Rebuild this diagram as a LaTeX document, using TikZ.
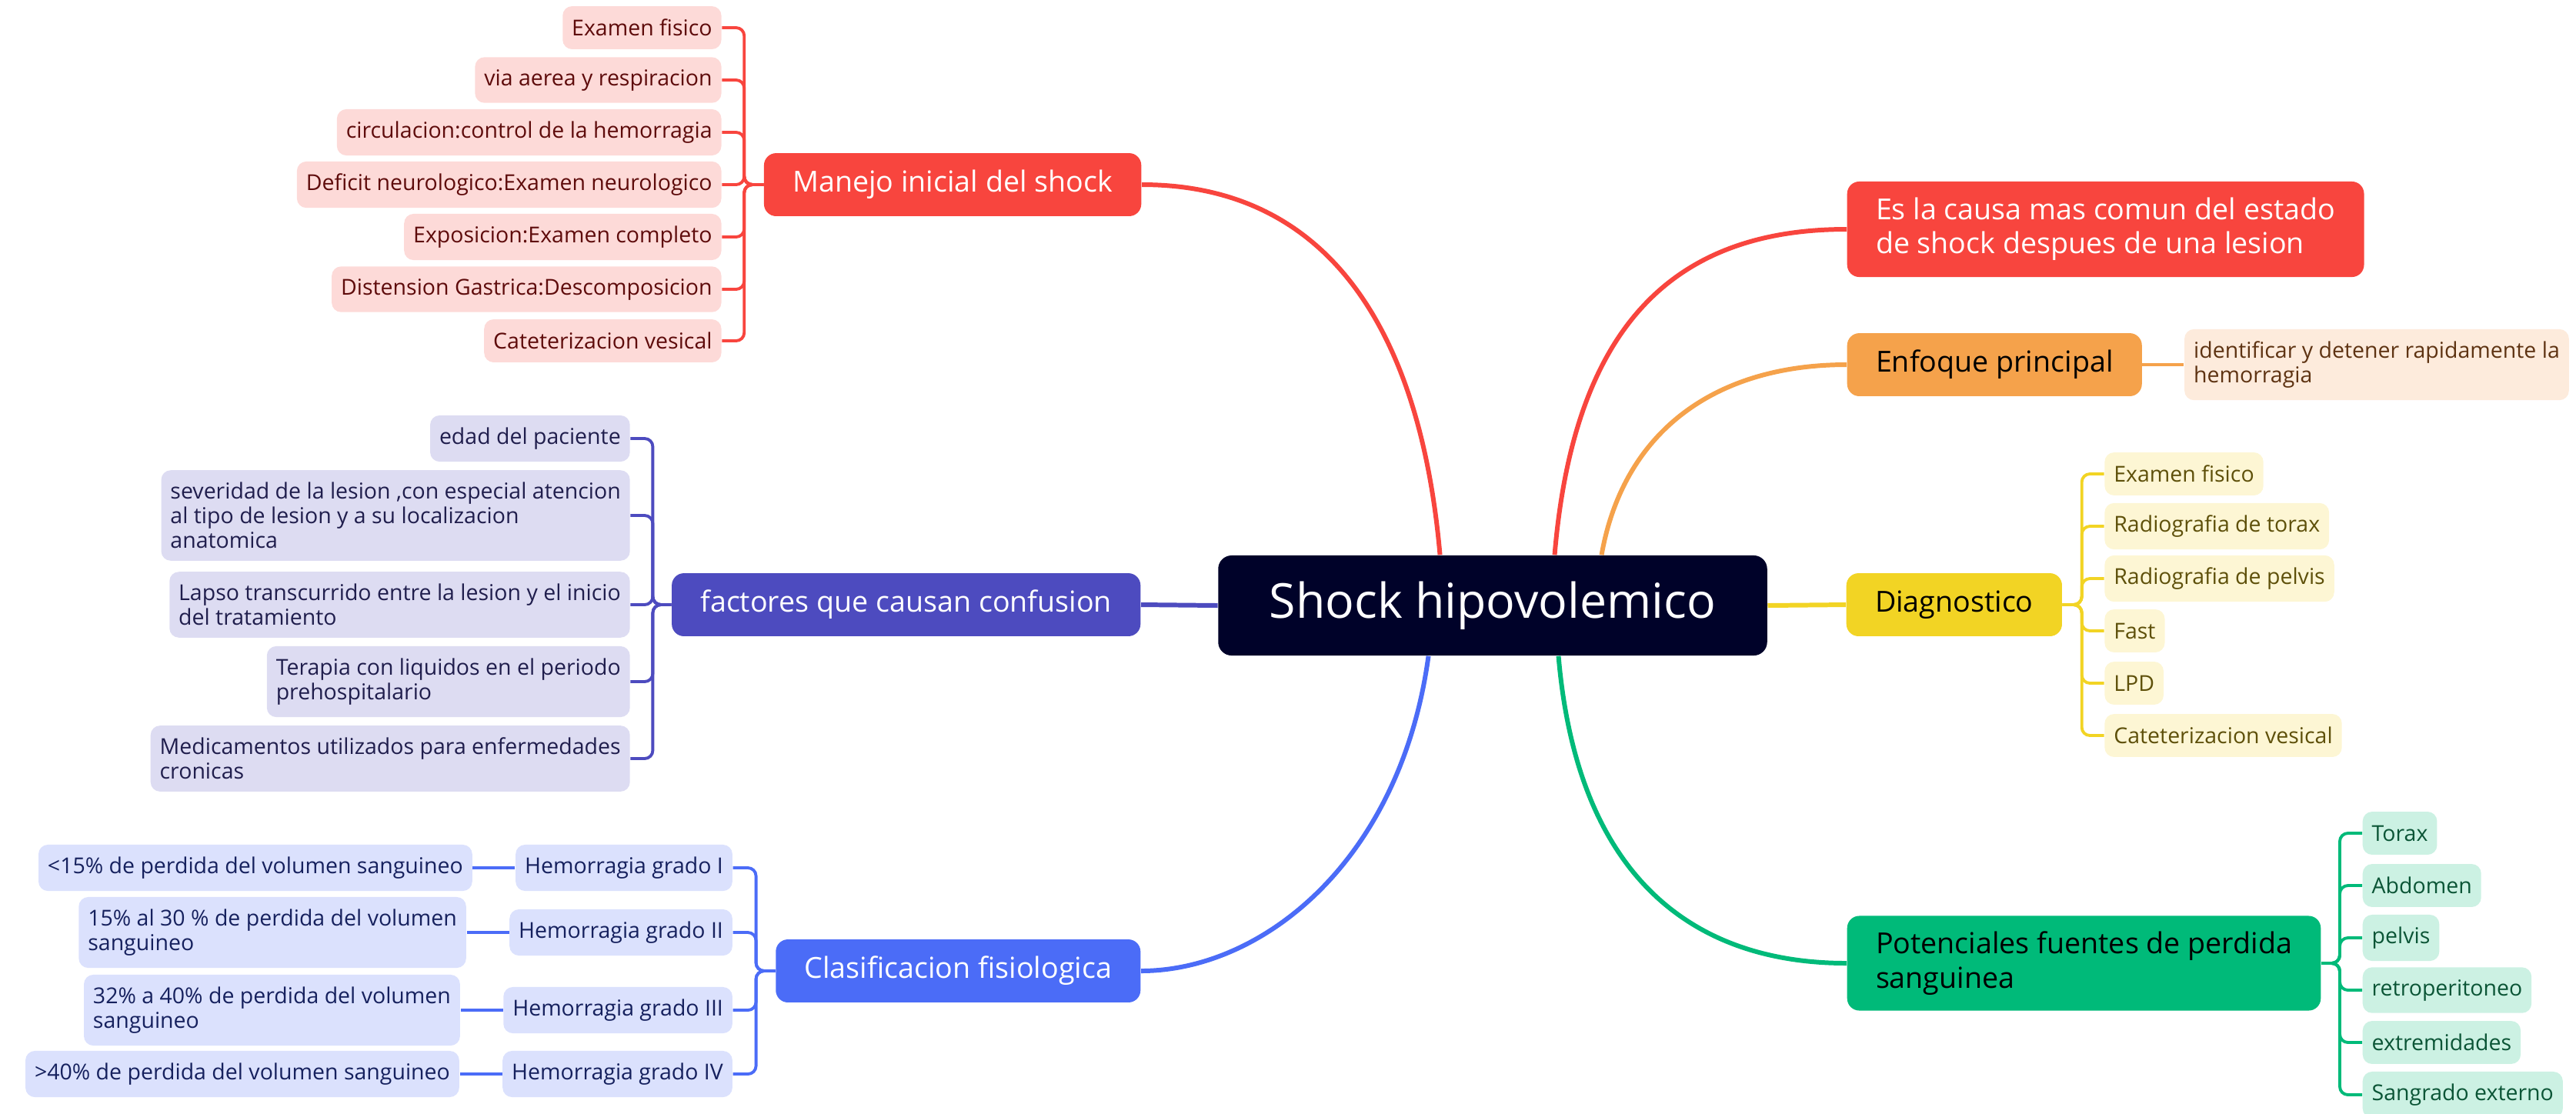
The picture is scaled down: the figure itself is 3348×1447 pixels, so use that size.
\documentclass[tikz,border=0pt]{standalone}
\usepackage{fontspec}
\setmainfont{Open Sans}
\usetikzlibrary{calc}
\definecolor{hubc}{HTML}{000229}
\definecolor{redc}{HTML}{F8453E}
\definecolor{redl}{HTML}{FDDAD8}
\definecolor{redt}{HTML}{5E0B0B}
\definecolor{purc}{HTML}{4D4BBF}
\definecolor{purl}{HTML}{DDDCF2}
\definecolor{purt}{HTML}{201E4D}
\definecolor{bluc}{HTML}{4B6CF7}
\definecolor{blul}{HTML}{DBE1FD}
\definecolor{blut}{HTML}{16215E}
\definecolor{orac}{HTML}{F5A24B}
\definecolor{oral}{HTML}{FDEBDC}
\definecolor{orat}{HTML}{5E3312}
\definecolor{yelc}{HTML}{F2D424}
\definecolor{yell}{HTML}{FDF6D4}
\definecolor{yelt}{HTML}{5E500A}
\definecolor{grec}{HTML}{00BA79}
\definecolor{grel}{HTML}{CCF1E3}
\definecolor{gret}{HTML}{0B5536}

\begin{document}
\begin{tikzpicture}[x=0.01cm,y=-0.01cm,
  hub/.style={fill=hubc,text=white,rounded corners=5pt,minimum width=202.9pt,minimum height=37pt,font=\fontsize{17.8}{20}\selectfont},
  topic/.style={rounded corners=4.5pt,minimum height=23.3pt,inner xsep=10.6pt,font=\fontsize{10.7}{12.6}\selectfont,align=left},
  leaf/.style={rounded corners=3.5pt,minimum height=15.9pt,inner xsep=3.4pt,inner ysep=4.5pt,font=\fontsize{8.1}{9.1}\selectfont,align=left},
  link/.style={line width=1.7pt},
  brk/.style={line width=1.1pt,rounded corners=3pt}]
\useasboundingbox (0,0) rectangle (3348,1447);

\node[hub] (hub) at (1940,787) {Shock hipovolemico};

\node[topic,fill=redc,text=white,anchor=east] (manejo) at (1484,240) {Manejo inicial del shock};
\node[topic,fill=purc,text=white,anchor=east] (factores) at (1483,786) {factores que causan confusion};
\node[topic,fill=bluc,text=white,anchor=east] (clasif) at (1483,1262) {Clasificacion fisiologica};
\node[topic,fill=redc,text=white,anchor=west,minimum height=35.3pt] (causa) at (2400,298) {Es la causa mas comun del estado\\de shock despues de una lesion};
\node[topic,fill=orac,anchor=west] (enfoque) at (2400,474) {Enfoque principal};
\node[topic,fill=yelc,anchor=west] (diag) at (2399,786) {Diagnostico};
\node[topic,fill=grec,anchor=west,minimum height=35pt] (fuentes) at (2400,1252) {Potenciales fuentes de perdida\\sanguinea};

\draw[link,redc] ($(hub.north west)+(289,0)$) .. controls (1845,420) and (1720,240) .. (manejo.east);
\draw[link,redc] ($(hub.north west)+(438,0)$) .. controls (2045,430) and (2170,298) .. (causa.west);
\draw[link,orac] ($(hub.north west)+(499,0)$) .. controls (2110,560) and (2230,474) .. (enfoque.west);
\draw[link,purc] (factores.east) -- (hub.west);
\draw[link,yelc] (hub.east) -- (diag.west);
\draw[link,bluc] ($(hub.south west)+(274,0)$) .. controls (1820,1120) and (1640,1262) .. (clasif.east);
\draw[link,grec] ($(hub.south west)+(443,0)$) .. controls (2050,1140) and (2200,1252) .. (fuentes.west);

\foreach \dy/\t [count=\i] in {-204/Examen fisico, -136/via aerea y respiracion, -68/circulacion:control de la hemorragia, 0/Deficit neurologico:Examen neurologico, 68/Exposicion:Examen completo, 136/Distension Gastrica:Descomposicion, 203/Cateterizacion vesical} {
  \node[leaf,fill=redl,text=redt,anchor=east] (m\i) at ($(manejo.west)+(-54,\dy)$) {\t};
  \draw[brk,redc] (manejo.west) -- ++(-25,0) |- (m\i.east);
}

\foreach \dy/\t [count=\i] in {-216/edad del paciente, -116/{severidad de la lesion ,con especial atencion\\al tipo de lesion y a su localizacion\\anatomica}, 0/{Lapso transcurrido entre la lesion y el inicio\\del tratamiento}, 100/{Terapia con liquidos en el periodo\\prehospitalario}, 200/{Medicamentos utilizados para enfermedades\\cronicas}} {
  \node[leaf,fill=purl,text=purt,anchor=east] (f\i) at ($(factores.west)+(-53,\dy)$) {\t};
  \draw[brk,purc] (factores.west) -- ++(-24,0) |- (f\i.east);
}

\foreach \dy/\g/\t [count=\i] in {-134/I/{<15\% de perdida del volumen sanguineo}, -50/II/{15\% al 30 \% de perdida del volumen\\sanguineo}, 51/III/{32\% a 40\% de perdida del volumen\\sanguineo}, 134/IV/{>40\% de perdida del volumen sanguineo}} {
  \node[leaf,fill=blul,text=blut,anchor=east] (g\i) at ($(clasif.west)+(-55,\dy)$) {Hemorragia grado \g};
  \node[leaf,fill=blul,text=blut,anchor=east] (p\i) at ($(g\i.west)+(-55,0)$) {\t};
  \draw[brk,bluc] (clasif.west) -- ++(-25,0) |- (g\i.east);
  \draw[brk,bluc] (g\i.west) -- (p\i.east);
}

\node[leaf,fill=oral,text=orat,anchor=west] (ident) at ($(enfoque.east)+(54,0)$) {identificar y detener rapidamente la\\hemorragia};
\draw[brk,orac] (enfoque.east) -- (ident.west);

\foreach \dy/\t [count=\i] in {-170/Examen fisico, -102/Radiografia de torax, -34/Radiografia de pelvis, 34/Fast, 102/LPD, 170/Cateterizacion vesical} {
  \node[leaf,fill=yell,text=yelt,anchor=west] (d\i) at ($(diag.east)+(54,\dy)$) {\t};
  \draw[brk,yelc] (diag.east) -- ++(25,0) |- (d\i.west);
}

\foreach \dy/\t [count=\i] in {-169/Torax, -101/Abdomen, -33/pelvis, 35/retroperitoneo, 103/extremidades, 171/Sangrado externo} {
  \node[leaf,fill=grel,text=gret,anchor=west] (s\i) at ($(fuentes.east)+(53,\dy)$) {\t};
  \draw[brk,grec] (fuentes.east) -- ++(24,0) |- (s\i.west);
}
\end{tikzpicture}
\end{document}
